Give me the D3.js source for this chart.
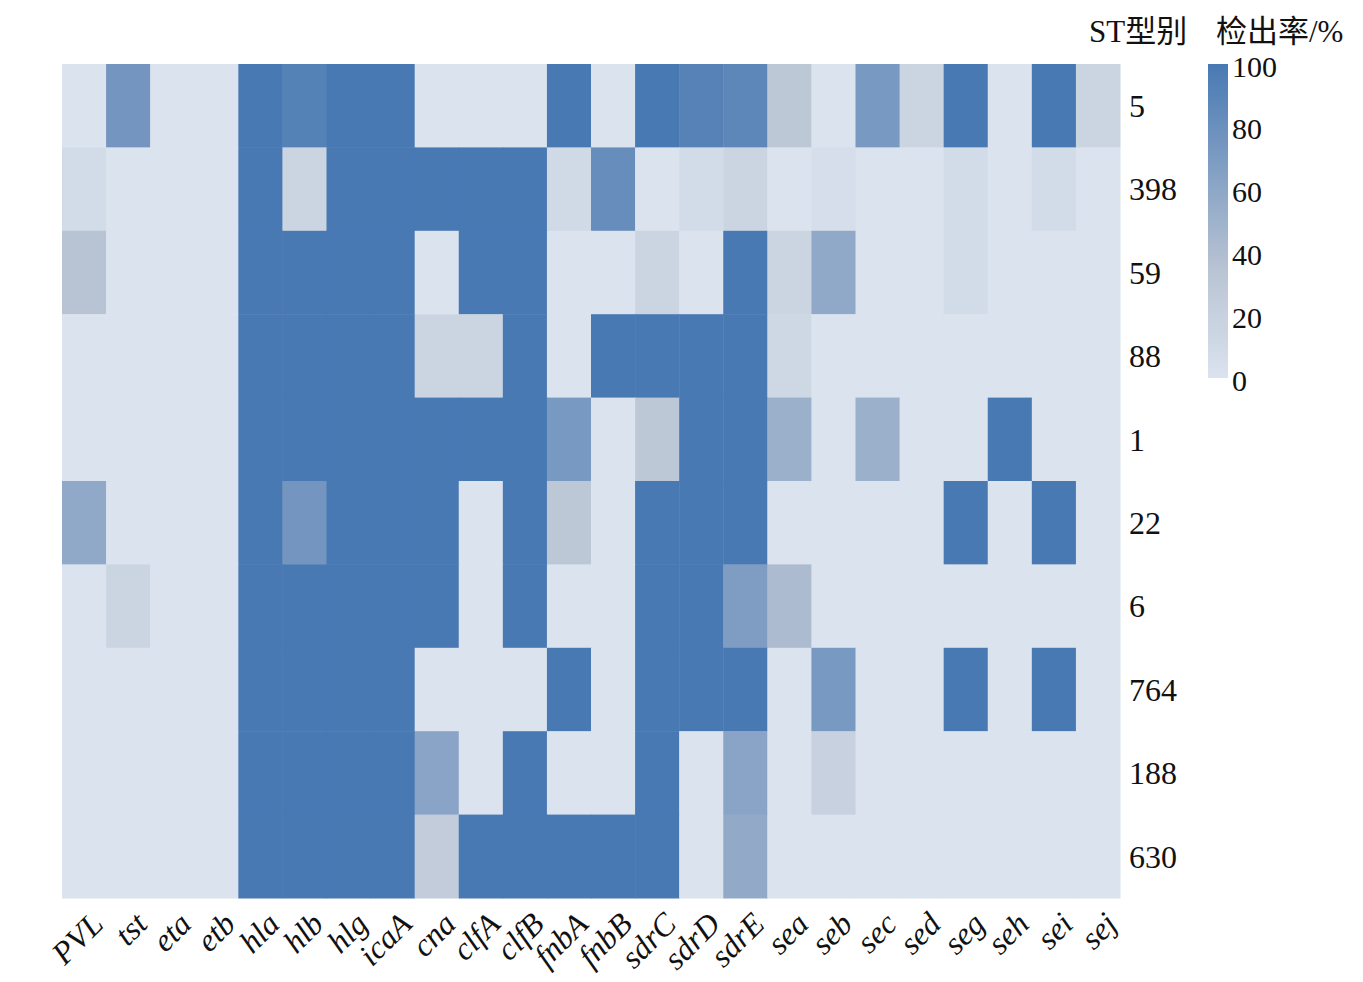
<!DOCTYPE html>
<html>
<head>
<meta charset="utf-8">
<script src="https://cdn.jsdelivr.net/npm/d3@7"></script>
<style>
  body { margin: 0; background: #fff; }
  svg text { font-family: "Liberation Serif", "Noto Sans CJK SC", serif; fill: #111; }
</style>
</head>
<body>
<div id="chart"></div>
<script>
// Genes (columns) and ST types (rows)
const genes = ["PVL", "tst", "eta", "etb", "hla", "hlb", "hlg", "icaA", "cna", "clfA", "clfB", "fnbA",
               "fnbB", "sdrC", "sdrD", "sdrE", "sea", "seb", "sec", "sed", "seg", "seh", "sei", "sej"];
const stTypes = ["5", "398", "59", "88", "1", "22", "6", "764", "188", "630"];

// Detection rate (%) per ST type, in the order of genes
const st5   = [0, 75, 0, 0, 100, 93, 100, 100, 0, 0, 0, 100, 0, 100, 92, 88, 30, 0, 72, 15, 100, 0, 100, 15];
const st398 = [8, 0, 0, 0, 100, 15, 100, 100, 100, 100, 100, 10, 82, 0, 8, 15, 0, 5, 0, 0, 8, 0, 8, 0];
const st59  = [35, 0, 0, 0, 100, 100, 100, 100, 0, 100, 100, 0, 0, 15, 0, 100, 15, 58, 0, 0, 8, 0, 0, 0];
const st88  = [0, 0, 0, 0, 100, 100, 100, 100, 15, 15, 100, 0, 100, 100, 100, 100, 12, 0, 0, 0, 0, 0, 0, 0];
const st1   = [0, 0, 0, 0, 100, 100, 100, 100, 100, 100, 100, 72, 0, 30, 100, 100, 52, 0, 52, 0, 0, 100, 0, 0];
const st22  = [58, 0, 0, 0, 100, 75, 100, 100, 100, 0, 100, 30, 0, 100, 100, 100, 0, 0, 0, 0, 100, 0, 100, 0];
const st6   = [0, 15, 0, 0, 100, 100, 100, 100, 100, 0, 100, 0, 0, 100, 100, 68, 42, 0, 0, 0, 0, 0, 0, 0];
const st764 = [0, 0, 0, 0, 100, 100, 100, 100, 0, 0, 0, 100, 0, 100, 100, 100, 0, 72, 0, 0, 100, 0, 100, 0];
const st188 = [0, 0, 0, 0, 100, 100, 100, 100, 62, 0, 100, 0, 0, 100, 0, 62, 0, 20, 0, 0, 0, 0, 0, 0];
const st630 = [0, 0, 0, 0, 100, 100, 100, 100, 25, 100, 100, 100, 100, 100, 0, 57, 0, 0, 0, 0, 0, 0, 0, 0];
const rates = [st5, st398, st59, st88, st1, st22, st6, st764, st188, st630];

const colorTicks = [0, 20, 40, 60, 80, 100];

const width = 1363;
const height = 982;
const margin = { top: 64, right: 243, bottom: 84, left: 62 };

const svg = d3.select("#chart").append("svg")
    .attr("width", width)
    .attr("height", height);

const x = d3.scaleBand()
    .domain(genes)
    .range([margin.left, width - margin.right]);

const y = d3.scaleBand()
    .domain(stTypes)
    .range([margin.top, height - margin.bottom]);

const colour = d3.scaleLinear()
    .domain([0, 35, 100])
    .range(["#dae3ee", "#b8c3d3", "#4879b3"])
    .clamp(true);

// flatten rows into cells
const cells = [];
rates.forEach((row, i) => {
    row.forEach((v, j) => cells.push({ st: stTypes[i], gene: genes[j], value: v }));
});

svg.append("g")
    .selectAll("rect")
    .data(cells)
    .join("rect")
    .attr("x", d => x(d.gene))
    .attr("y", d => y(d.st))
    .attr("width", x.bandwidth() + 0.5)
    .attr("height", y.bandwidth() + 0.5)
    .attr("fill", d => colour(d.value));

// Gene labels, rotated
svg.append("g")
    .selectAll("text")
    .data(genes)
    .join("text")
    .attr("transform", d => `translate(${x(d) + x.bandwidth() / 2 + 13}, 918) rotate(-45)`)
    .attr("text-anchor", "end")
    .attr("dy", "0.35em")
    .style("font-style", "italic")
    .style("font-size", "32px")
    .text(d => d);

// ST labels on the right
svg.append("g")
    .selectAll("text")
    .data(stTypes)
    .join("text")
    .attr("x", width - margin.right + 9)
    .attr("y", d => y(d) + y.bandwidth() / 2)
    .attr("dy", "0.35em")
    .style("font-size", "32px")
    .text(d => d);

svg.append("text")
    .attr("x", 1089)
    .attr("y", 42)
    .style("font-size", "31px")
    .text("ST型别");

// Colour bar legend
const barX = 1208, barW = 20;
const cbar = d3.scaleLinear().domain([0, 100]).range([378, 64]);

const defs = svg.append("defs");
const grad = defs.append("linearGradient")
    .attr("id", "cbar-gradient")
    .attr("x1", 0).attr("x2", 0)
    .attr("y1", 1).attr("y2", 0);
d3.range(0, 101, 5).forEach(v => {
    grad.append("stop")
        .attr("offset", v + "%")
        .attr("stop-color", colour(v));
});

svg.append("rect")
    .attr("x", barX)
    .attr("y", cbar(100))
    .attr("width", barW)
    .attr("height", cbar(0) - cbar(100))
    .style("fill", "url(#cbar-gradient)");

svg.append("g")
    .selectAll("text")
    .data(colorTicks)
    .join("text")
    .attr("x", barX + barW + 4)
    .attr("y", d => cbar(d) + 2)
    .attr("dy", "0.35em")
    .style("font-size", "30px")
    .text(d => d);

svg.append("text")
    .attr("x", 1216)
    .attr("y", 42)
    .style("font-size", "31px")
    .text("检出率/%");
</script>
</body>
</html>
